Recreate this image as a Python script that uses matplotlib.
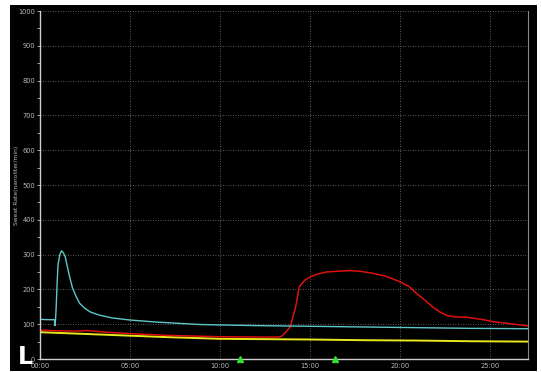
import matplotlib
matplotlib.use("Agg")
import matplotlib.pyplot as plt
from matplotlib.patches import Rectangle
from matplotlib.ticker import MultipleLocator, FuncFormatter

# =========================
# DATA (minutes, nanoliter/min)
# =========================

cyan_t = [0.0, 0.4, 0.8, 0.83, 0.86, 0.9, 0.95, 1.0, 1.1, 1.2, 1.3, 1.4, 1.5,
          1.65, 1.8, 2.0, 2.2, 2.5, 2.8, 3.3, 4.0, 5.0, 6.5, 8.9, 12.0, 15.0,
          18.0, 21.0, 24.0, 27.1]
cyan_v = [114, 113, 113, 96, 112, 150, 218, 270, 300, 311, 305, 294, 270,
          235, 205, 180, 160, 145, 135, 126, 118, 112, 106, 99, 96, 94,
          92, 90, 88, 87]

red_t = [0.0, 1.0, 2.1, 2.6, 3.2, 4.0, 5.4, 7.0, 8.5, 10.0, 12.5, 13.2, 13.4,
         13.6, 13.9, 14.2, 14.4, 14.7, 15.0, 15.4, 15.9, 16.5, 17.2, 17.8,
         18.5, 19.2, 20.0, 20.5, 20.9, 21.4, 21.8, 22.2, 22.6, 23.0, 23.7,
         24.5, 25.2, 26.2, 27.1]
red_v = [83, 81, 80, 82, 79, 76, 72, 68, 66, 64, 63, 63, 65,
         74, 93, 150, 208, 226, 236, 244, 250, 252, 254, 252,
         246, 238, 222, 208, 189, 168, 150, 135, 125, 121, 120,
         114, 107, 101, 95]

yellow_t = [0.0, 1.5, 3.0, 5.0, 7.0, 10.0, 12.5, 15.0, 18.0, 21.0, 24.0, 27.1]
yellow_v = [77, 74, 71, 67, 63, 58, 57, 56, 54, 53, 51, 50]

event_t = [11.1, 16.4]

x_ticks = [0, 5, 10, 15, 20, 25]
y_ticks = [0, 100, 200, 300, 400, 500, 600, 700, 800, 900, 1000]

# =========================
# FIGURE
# =========================

W, H = 541, 372
fig = plt.figure(figsize=(W / 100, H / 100), dpi=100, facecolor="white")
fig.patches.append(Rectangle((10 / W, 1 / H), 527 / W, 366 / H,
                             transform=fig.transFigure, facecolor="black",
                             edgecolor="none", zorder=-10))

ax = fig.add_axes([40 / W, 13 / H, 488 / W, 348 / H])
ax.set_facecolor("black")

ax.plot(yellow_t, yellow_v, color="#e8e81a", lw=1.4)
ax.plot(red_t, red_v, color="#e01010", lw=1.1)
ax.plot(cyan_t, cyan_v, color="#5ec8c8", lw=1.0)

ax.plot(event_t, [0] * len(event_t), "^", color="#33dd33", ms=4,
        clip_on=False, zorder=5)

ax.set_xlim(0, 27.1)
ax.set_ylim(0, 1000)
ax.set_xticks(x_ticks)
ax.set_yticks(y_ticks)
ax.yaxis.set_minor_locator(MultipleLocator(50))
ax.xaxis.set_major_formatter(FuncFormatter(lambda v, p: "%02d:00" % int(v)))

ax.grid(True, color="#7a7a7a", linestyle=(0, (1, 2)), linewidth=0.6)

ax.tick_params(axis="both", which="major", colors="#bbbbbb", labelsize=4.8,
               length=2, width=0.6, pad=1.5)
ax.tick_params(axis="y", which="minor", colors="#bbbbbb", length=2, width=0.6)
ax.tick_params(axis="x", which="major", length=0, pad=3)

for side in ["left", "bottom"]:
    ax.spines[side].set_color("#d0d0d0")
    ax.spines[side].set_linewidth(1.0)
ax.spines["right"].set_color("#888888")
ax.spines["top"].set_visible(False)

fig.text(17 / W, 1 - 185 / H, "Sweat Rate(nanoliter/min)", rotation=90,
         color="#bbbbbb", fontsize=4.3, ha="center", va="center")

fig.text(18 / W, 1 - 364 / H, "L", color="white", fontsize=17,
         fontweight="bold", ha="left", va="baseline")

fig.savefig("out.png", dpi=100, facecolor="white")
